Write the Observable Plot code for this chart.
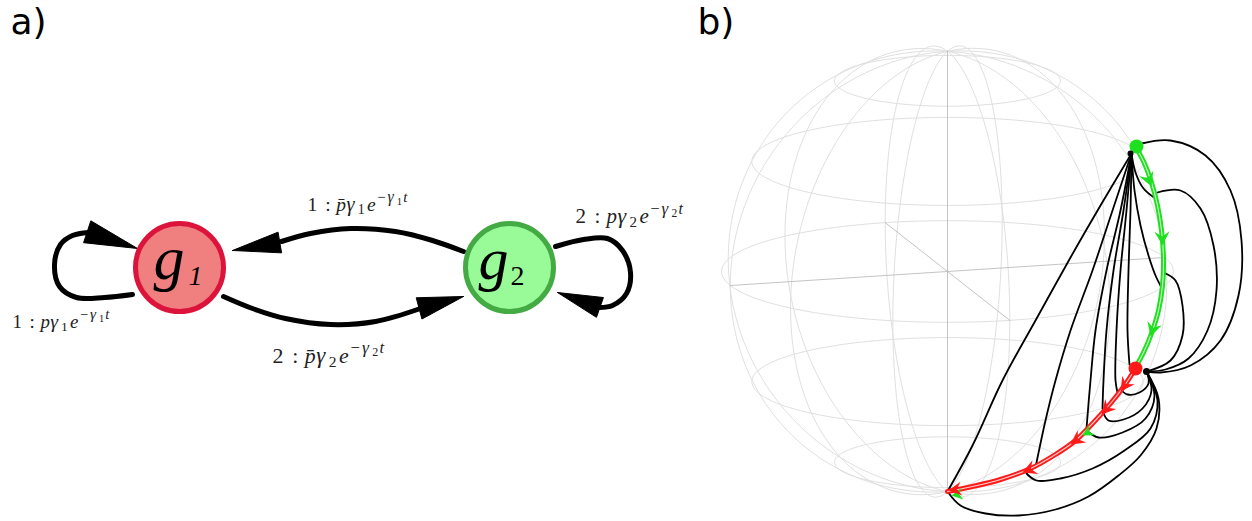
<!DOCTYPE html>
<html><head><meta charset="utf-8">
<script src="https://cdn.jsdelivr.net/npm/d3@7"></script>
<script src="https://cdn.jsdelivr.net/npm/@observablehq/plot@0.6"></script>
<style>html,body{margin:0;padding:0;background:#fff}#chart svg{display:block}</style>
</head><body><div id="chart"></div>
<script>
const W = 1252, H = 521;

// ---------- panel a: graph ----------
const panelLabels = [{text: "a)", x: 10, y: 33}, {text: "b)", x: 697, y: 33}];
const nodes = [
  {id: "g1", x: 179, y: 267, r: 44, fill: "#f08080", stroke: "#dc143c"},
  {id: "g2", x: 509, y: 267, r: 44, fill: "#98fb98", stroke: "#44aa44"}
];
const nodeGlyphs = [
  {node: "g1", text: "g", x: 153, y: 278, size: 62, italic: true},
  {node: "g1", text: "1", x: 188, y: 284, size: 28, italic: true},
  {node: "g2", text: "g", x: 478, y: 278, size: 60, italic: true},
  {node: "g2", text: "2", x: 510, y: 284, size: 28, italic: false}
];
const edgePaths = [
  {id: "loop1", pts: [[132,294],[104,297],[76,297],[59,286],[54,264],[60,244],[72,235],[88,232]]},
  {id: "g2g1", pts: [[463,251],[432,240],[395,231],[350,228],[310,233],[281,241]]},
  {id: "g1g2", pts: [[223,296],[252,308],[285,318],[330,324],[375,321],[420,308]]},
  {id: "loop2", pts: [[555,246],[583,239],[607,238],[622,250],[630,272],[626,293],[612,305],[599,307]]}
];
const edgeArrows = [
  {x: 137, y: 248, angle: 18.4, len: 53, half: 11.5, notch: 0},
  {x: 232, y: 250, angle: 170.4, len: 48, half: 10.5, notch: 0},
  {x: 463, y: 296, angle: -15, len: 46, half: 11, notch: 0},
  {x: 557, y: 292, angle: 199.4, len: 45, half: 10.5, notch: 0}
];
// edge labels: "d : p(bar) γ_d e^{−γ_d t}"
const edgeLabels = [
  {x: 307, y: 210, k: 0.93, d: "1", bar: true},
  {x: 575, y: 222, k: 1.0, d: "2", bar: false},
  {x: 12, y: 327, k: 0.9, d: "1", bar: false},
  {x: 272, y: 362, k: 1.04, d: "2", bar: true}
];
const labelTemplate = [
  {part: "d", dx: 0, dy: 0, size: 21, italic: false},
  {part: ":", dx: 19, dy: 0, size: 21, italic: false},
  {part: "p", dx: 31, dy: 0, size: 21, italic: true},
  {part: "γ", dx: 42, dy: 0, size: 22, italic: true},
  {part: "d", dx: 54, dy: 4, size: 15, italic: false},
  {part: "e", dx: 64, dy: 0, size: 21, italic: true},
  {part: "−", dx: 75, dy: -9, size: 16, italic: false},
  {part: "γ", dx: 86, dy: -9, size: 17, italic: true},
  {part: "d", dx: 96, dy: -6, size: 11.5, italic: false},
  {part: "t", dx: 103, dy: -9, size: 16, italic: true}
];

// ---------- panel b: Bloch sphere ----------
const sphere = {cx: 947, cy: 271, R: 226, elev: 13, psiX: 74};
const meridianLons = [0, 30, 60, 90, 120, 150, 180, 210, 240, 270, 300, 330];
const parallelLats = [-60, -30, 0, 30, 60];
const greenPath = [[1135,146],[1144,163],[1151,182],[1157,205],[1161,230],[1163,258],[1162,285],[1158,310],[1151,333],[1143,352],[1135,367]];
const redPath = [[1135,368],[1124,385],[1110,403],[1093,422],[1075,440],[1055,454],[1030,468],[1000,479],[972,486],[947,491]];
const blackPaths = [
  {id: "f1", pts: [[1131,153],[1100,205],[1070,257],[1035,320],[1002,380],[972,445],[947,491]]},
  {id: "f2", pts: [[1131,153],[1112,210],[1092,270],[1070,330],[1055,380],[1045,420],[1035,467]]},
  {id: "f3", pts: [[1131,153],[1120,210],[1106,270],[1095,330],[1090,380],[1086,428]]},
  {id: "f4", pts: [[1131,153],[1123,210],[1113,270],[1106,330],[1103,380],[1102,408]]},
  {id: "f5", pts: [[1131,153],[1126,210],[1120,270],[1116,330],[1115,380],[1117,392]]},
  {id: "f6", pts: [[1131,153],[1130,210],[1128,270],[1127,330],[1129,364]]},
  {id: "f7", pts: [[1131,153],[1135,172],[1143,188],[1155,198]]},
  {id: "f8", pts: [[1131,153],[1134,190],[1140,225],[1148,255],[1155,275],[1161,287]]},
  {id: "o1", pts: [[1141,143],[1170,140],[1205,155],[1230,190],[1241,240],[1238,295],[1220,340],[1190,365],[1160,372],[1146,371]]},
  {id: "o2", pts: [[1157,192],[1180,190],[1200,208],[1213,245],[1216,290],[1207,330],[1188,358],[1165,369],[1146,371]]},
  {id: "o3", pts: [[1163,272],[1175,280],[1182,305],[1182,335],[1170,360],[1146,371]]},
  {id: "l1", pts: [[1146,371],[1148,383],[1139,392],[1127,394],[1120,389]]},
  {id: "l2", pts: [[1146,371],[1151,390],[1142,408],[1123,419],[1108,420],[1102,410]]},
  {id: "l3", pts: [[1146,371],[1154,395],[1145,418],[1122,432],[1098,437],[1086,430]]},
  {id: "l4", pts: [[1146,371],[1157,400],[1150,428],[1124,450],[1092,468],[1060,478],[1036,480],[1026,473]]},
  {id: "l5", pts: [[1146,371],[1158,398],[1156,428],[1140,455],[1118,475],[1088,496],[1055,509],[1018,515],[985,513],[960,505],[947,491]]}
];
const greenArrows = [
  {x: 1151, y: 186, angle: 68, len: 14, half: 7.5, notch: 0.35},
  {x: 1162, y: 245, angle: 88, len: 14, half: 7.5, notch: 0.35},
  {x: 1150, y: 336, angle: 107, len: 14, half: 7.5, notch: 0.35},
  {x: 1082, y: 435, angle: 150, len: 11, half: 6, notch: 0.3},
  {x: 951, y: 495, angle: 170, len: 11, half: 6, notch: 0.3}
];
const redArrows = [
  {x: 1120, y: 391, angle: 125, len: 14, half: 7.5, notch: 0.35},
  {x: 1101, y: 414, angle: 132, len: 14, half: 7.5, notch: 0.35},
  {x: 1070, y: 444, angle: 145, len: 14, half: 7.5, notch: 0.35},
  {x: 1022, y: 472, angle: 157, len: 14, half: 7.5, notch: 0.35},
  {x: 948, y: 490, angle: 172, len: 13, half: 7, notch: 0.35}
];
const stateDots = [
  {x: 1136, y: 146, r: 7, color: "#1ee01e"},
  {x: 1135, y: 368, r: 7, color: "#ff1a1a"},
  {x: 1130, y: 153, r: 3, color: "#000"},
  {x: 1146, y: 371, r: 3.5, color: "#000"}
];

// ---------- helpers ----------
const rad = Math.PI / 180;
function proj(lon, lat) {
  const psi = (sphere.psiX - lon) * rad, la = lat * rad, e = sphere.elev * rad;
  const r = Math.cos(la) * Math.cos(psi), f = Math.cos(la) * Math.sin(psi), z = Math.sin(la);
  return [sphere.cx + sphere.R * r, sphere.cy + sphere.R * (f * Math.sin(e) - z * Math.cos(e))];
}
const toRows = (paths) => paths.flatMap(p => p.pts.map(([x, y]) => ({id: p.id, x, y})));
const single = (id, pts) => pts.map(([x, y]) => ({id, x, y}));
function arrowRows(list, prefix) {
  return list.flatMap((a, k) => {
    const t = a.angle * rad, ux = Math.cos(t), uy = Math.sin(t), px = -uy, py = ux;
    const bx = a.x - a.len * ux, by = a.y - a.len * uy;
    const nx = bx + a.notch * a.len * ux, ny = by + a.notch * a.len * uy;
    return [[a.x, a.y], [bx + a.half * px, by + a.half * py], [nx, ny], [bx - a.half * px, by - a.half * py], [a.x, a.y]]
      .map(([x, y]) => ({id: prefix + k, x, y}));
  });
}

const wire = [];
meridianLons.forEach(lon => { for (let lat = -90; lat <= 90; lat += 3) { const [x, y] = proj(lon, lat); wire.push({id: "m" + lon, x, y}); } });
parallelLats.forEach(lat => { for (let lon = 0; lon <= 360; lon += 4) { const [x, y] = proj(lon, lat); wire.push({id: "p" + lat, x, y}); } });
const axes = [
  ...single("ax", [proj(180, 0), proj(0, 0)]),
  ...single("ay", [proj(270, 0), proj(90, 0)]),
  ...single("az", [proj(0, -90), proj(0, 90)])
];

const labelPieces = edgeLabels.flatMap(L => labelTemplate.map(p => ({
  text: p.part === "d" ? L.d : (p.part === "p" ? (L.bar ? "p\u0304" : "p") : p.part),
  x: L.x + p.dx * L.k, y: L.y + p.dy * L.k, size: p.size * L.k, italic: p.italic
})));

const serif = "'Liberation Serif', 'DejaVu Serif', serif";
const lineStyle = {x: "x", y: "y", z: "id"};

const marks = [
  Plot.text(panelLabels, {x: "x", y: "y", text: "text", textAnchor: "start", lineAnchor: "bottom", fontSize: 36, fontFamily: "'DejaVu Sans', sans-serif", fill: "#000"}),
  Plot.line(toRows(edgePaths), {...lineStyle, curve: "catmull-rom", stroke: "#000", strokeWidth: 5}),
  Plot.line(arrowRows(edgeArrows, "ea"), {...lineStyle, curve: "linear", fill: "#000", stroke: "#000", strokeWidth: 1}),
  ...nodes.map(n => Plot.dot([n], {x: "x", y: "y", r: n.r, fill: n.fill, stroke: n.stroke, strokeWidth: 5})),
  Plot.text(nodeGlyphs.filter(d => d.italic), {x: "x", y: "y", text: "text", fontSize: d => d.size, textAnchor: "start", lineAnchor: "bottom", fontFamily: serif, fontStyle: "italic", fill: "#000"}),
  Plot.text(nodeGlyphs.filter(d => !d.italic), {x: "x", y: "y", text: "text", fontSize: d => d.size, textAnchor: "start", lineAnchor: "bottom", fontFamily: serif, fill: "#000"}),
  Plot.text(labelPieces.filter(d => d.italic), {x: "x", y: "y", text: "text", fontSize: d => d.size, textAnchor: "start", lineAnchor: "bottom", fontFamily: serif, fontStyle: "italic", fill: "#222"}),
  Plot.text(labelPieces.filter(d => !d.italic), {x: "x", y: "y", text: "text", fontSize: d => d.size, textAnchor: "start", lineAnchor: "bottom", fontFamily: serif, fill: "#222"}),
  Plot.line(wire, {...lineStyle, curve: "linear", stroke: "#e0e0e0", strokeWidth: 1}),
  Plot.line(axes, {...lineStyle, curve: "linear", stroke: "#bdbdbd", strokeWidth: 0.9}),
  Plot.line(toRows(blackPaths), {...lineStyle, curve: "catmull-rom", stroke: "#000", strokeWidth: 1.8}),
  Plot.line(single("green", greenPath), {...lineStyle, curve: "catmull-rom", stroke: "#1ee01e", strokeWidth: 5}),
  Plot.line(single("greenw", greenPath), {...lineStyle, curve: "catmull-rom", stroke: "#fff", strokeWidth: 1.1, strokeOpacity: 0.8}),
  Plot.line(single("red", redPath), {...lineStyle, curve: "catmull-rom", stroke: "#ff1a1a", strokeWidth: 5}),
  Plot.line(single("redw", redPath), {...lineStyle, curve: "catmull-rom", stroke: "#fff", strokeWidth: 1.1, strokeOpacity: 0.8}),
  Plot.line(arrowRows(greenArrows, "ga"), {...lineStyle, curve: "linear", fill: "#1ee01e", stroke: "none"}),
  Plot.line(arrowRows(redArrows, "ra"), {...lineStyle, curve: "linear", fill: "#ff1a1a", stroke: "none"}),
  ...stateDots.map(d => Plot.dot([d], {x: "x", y: "y", r: d.r, fill: d.color, stroke: "none"}))
];

const chart = Plot.plot({
  width: W, height: H, margin: 0,
  x: {domain: [0, W], range: [0, W], axis: null},
  y: {domain: [0, H], range: [0, H], axis: null},
  style: {background: "#fff", overflow: "visible"},
  marks
});
document.getElementById("chart").appendChild(chart);
</script></body></html>
